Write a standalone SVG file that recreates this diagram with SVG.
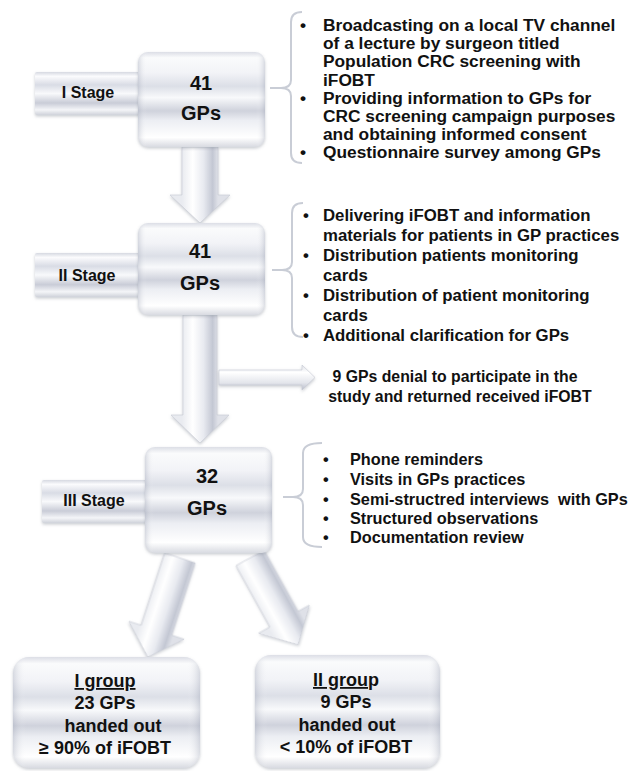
<svg xmlns="http://www.w3.org/2000/svg" width="631" height="771" viewBox="0 0 631 771">
<defs>
  <linearGradient id="boxV" x1="0" y1="0" x2="0" y2="1">
    <stop offset="0" stop-color="#dcdee6"/>
    <stop offset="0.06" stop-color="#fafbfc"/>
    <stop offset="0.22" stop-color="#f2f3f7"/>
    <stop offset="0.36" stop-color="#dcdfe7"/>
    <stop offset="0.48" stop-color="#f8f9fb"/>
    <stop offset="0.62" stop-color="#cfd2dc"/>
    <stop offset="0.72" stop-color="#eceef3"/>
    <stop offset="0.9" stop-color="#ffffff"/>
    <stop offset="1" stop-color="#d8dae1"/>
  </linearGradient>
  <linearGradient id="boxH" x1="0" y1="0" x2="1" y2="0">
    <stop offset="0" stop-color="#9aa0b2" stop-opacity="0.35"/>
    <stop offset="0.07" stop-color="#ffffff" stop-opacity="0"/>
    <stop offset="0.93" stop-color="#ffffff" stop-opacity="0"/>
    <stop offset="1" stop-color="#9aa0b2" stop-opacity="0.35"/>
  </linearGradient>
  <linearGradient id="tabV" x1="0" y1="0" x2="0" y2="1">
    <stop offset="0" stop-color="#d6d9e1"/>
    <stop offset="0.1" stop-color="#fbfbfd"/>
    <stop offset="0.3" stop-color="#d9dce5"/>
    <stop offset="0.5" stop-color="#f8f9fb"/>
    <stop offset="0.72" stop-color="#c9ccd7"/>
    <stop offset="0.88" stop-color="#f4f5f8"/>
    <stop offset="1" stop-color="#cfd2da"/>
  </linearGradient>
  <linearGradient id="arrowG" gradientUnits="userSpaceOnUse" x1="-18" y1="0" x2="18" y2="0">
    <stop offset="0" stop-color="#e9ebf0"/>
    <stop offset="0.3" stop-color="#ffffff"/>
    <stop offset="0.6" stop-color="#e8eaf0"/>
    <stop offset="0.85" stop-color="#c3c7d3"/>
    <stop offset="1" stop-color="#dfe1e8"/>
  </linearGradient>
  <linearGradient id="sideG" x1="0" y1="0" x2="0" y2="1">
    <stop offset="0" stop-color="#dfe1e8"/>
    <stop offset="0.3" stop-color="#ffffff"/>
    <stop offset="0.7" stop-color="#e4e6ec"/>
    <stop offset="1" stop-color="#b9bdca"/>
  </linearGradient>
  <filter id="sh" x="-10%" y="-10%" width="120%" height="125%">
    <feDropShadow dx="0" dy="1.5" stdDeviation="1.5" flood-color="#8a8f9c" flood-opacity="0.45"/>
  </filter>
  <style>
    .t{font-family:"Liberation Sans",Arial,sans-serif;font-weight:bold;fill:#111111}
    .c{text-anchor:middle}
    .box{fill:url(#boxV);filter:url(#sh)}
    .edge{fill:url(#boxH)}
    .tab{fill:url(#tabV);filter:url(#sh)}
    .arr{fill:url(#arrowG);stroke:#c6cad4;stroke-width:0.6;filter:url(#sh)}
    .brace{fill:none;stroke:#c9cdd6;stroke-width:2}
  </style>
</defs>
<rect width="631" height="771" fill="#ffffff"/>

<g id="connectors">
  <path class="arr" transform="translate(200,147)" d="M-18,0 L18,0 L18,48 L30,48 L0,76 L-30,48 L-18,48 Z"/>
  <path class="arr" transform="translate(200,315)" d="M-17,0 L17,0 L17,100 L29,100 L0,128 L-29,100 L-17,100 Z"/>
  <path fill="url(#sideG)" stroke="#c6cad4" stroke-width="0.6" filter="url(#sh)" d="M219,370 L302,370 L302,365 L315,377.5 L302,390 L302,385 L219,385 Z"/>
  <path class="arr" transform="translate(180,558) rotate(18)" d="M-16,0 L16,0 L16,76 L29,76 L0,104 L-29,76 L-16,76 Z"/>
  <path class="arr" transform="translate(250,558) rotate(-29)" d="M-16,0 L16,0 L16,70 L29,70 L0,99 L-29,70 L-16,70 Z"/>
  <path class="brace" d="M302,12 Q291,12 291,22 L291,80 Q291,88 281,88 L270,88 M281,88 Q291,88 291,96 L291,153 Q291,163 302,163"/>
  <path class="brace" d="M303,203 Q292,203 292,213 L292,262 Q292,270 282,270 L272,270 M282,270 Q292,270 292,278 L292,327 Q292,337 303,337"/>
  <path class="brace" d="M322,443 Q303,443 303,453 L303,489 Q303,497 293,497 L283,497 M293,497 Q303,497 303,505 L303,537 Q303,547 322,547"/>
</g>

<g id="stage1">
  <rect class="tab" x="35" y="72" width="106" height="43" rx="2"/>
  <rect class="box" x="138" y="52" width="127" height="95" rx="10"/>
  <rect class="edge" x="138" y="52" width="127" height="95" rx="10"/>
  <text class="t c" x="88" y="98" font-size="16">I Stage</text>
  <text class="t c" x="201" y="90" font-size="20">41</text>
  <text class="t c" x="201" y="120" font-size="20">GPs</text>
</g>

<g id="stage2">
  <rect class="tab" x="35" y="253" width="106" height="44" rx="2"/>
  <rect class="box" x="138" y="223" width="127" height="92" rx="10"/>
  <rect class="edge" x="138" y="223" width="127" height="92" rx="10"/>
  <text class="t c" x="87" y="281" font-size="16">II Stage</text>
  <text class="t c" x="200" y="258" font-size="20">41</text>
  <text class="t c" x="200" y="290" font-size="20">GPs</text>
</g>

<g id="stage3">
  <rect class="tab" x="42" y="480" width="106" height="43" rx="2"/>
  <rect class="box" x="145" y="447" width="127" height="106" rx="10"/>
  <rect class="edge" x="145" y="447" width="127" height="106" rx="10"/>
  <text class="t c" x="94" y="506" font-size="16">III Stage</text>
  <text class="t c" x="207" y="483" font-size="20">32</text>
  <text class="t c" x="207" y="515" font-size="20">GPs</text>
</g>

<g id="list1" class="t" font-size="15.6" transform="translate(323,0) scale(1.11,1)">
  <text x="-20.7" y="31">•</text>
  <text x="0" y="31">Broadcasting on a local TV channel</text>
  <text x="0" y="49">of a lecture by surgeon titled</text>
  <text x="0" y="67">Population CRC screening with</text>
  <text x="0" y="86">iFOBT</text>
  <text x="-20.7" y="104">•</text>
  <text x="0" y="104">Providing information to GPs for</text>
  <text x="0" y="122">CRC screening campaign purposes</text>
  <text x="0" y="140">and obtaining informed consent</text>
  <text x="-20.7" y="158">•</text>
  <text x="0" y="158">Questionnaire survey among GPs</text>
</g>

<g id="list2" class="t" font-size="16.8">
  <text x="303" y="221">•</text>
  <text x="323" y="221">Delivering iFOBT and information</text>
  <text x="323" y="241">materials for patients in GP practices</text>
  <text x="303" y="261">•</text>
  <text x="323" y="261">Distribution patients monitoring</text>
  <text x="323" y="281">cards</text>
  <text x="303" y="301">•</text>
  <text x="323" y="301">Distribution of patient monitoring</text>
  <text x="323" y="321">cards</text>
  <text x="303" y="341">•</text>
  <text x="323" y="341">Additional clarification for GPs</text>
</g>

<g id="note" class="t c" font-size="15.8">
  <text x="455" y="382">9 GPs denial to participate in the</text>
  <text x="460" y="402">study and returned received iFOBT</text>
</g>

<g id="list3" class="t" font-size="16.3">
  <text x="323" y="465">•</text>
  <text x="350" y="465">Phone reminders</text>
  <text x="323" y="485">•</text>
  <text x="350" y="485">Visits in GPs practices</text>
  <text x="323" y="505">•</text>
  <text x="350" y="505" style="white-space:pre">Semi-structred interviews  with GPs</text>
  <text x="323" y="524">•</text>
  <text x="350" y="524">Structured observations</text>
  <text x="323" y="543">•</text>
  <text x="350" y="543">Documentation review</text>
</g>

<g id="group1">
  <rect class="box" x="13" y="657" width="187" height="111" rx="16"/>
  <rect class="edge" x="13" y="657" width="187" height="111" rx="16"/>
  <g class="t c" font-size="18">
    <text x="105" y="687" text-decoration="underline">I group</text>
    <text x="105" y="709">23 GPs</text>
    <text x="113" y="732">handed out</text>
    <text x="105" y="754">≥ 90% of iFOBT</text>
  </g>
</g>

<g id="group2">
  <rect class="box" x="255" y="655" width="185" height="113" rx="16"/>
  <rect class="edge" x="255" y="655" width="185" height="113" rx="16"/>
  <g class="t c" font-size="18">
    <text x="346" y="686"><tspan text-decoration="underline">II grou</tspan>p</text>
    <text x="346" y="708">9 GPs</text>
    <text x="347" y="731">handed out</text>
    <text x="346" y="753">&lt; 10% of iFOBT</text>
  </g>
</g>
</svg>
